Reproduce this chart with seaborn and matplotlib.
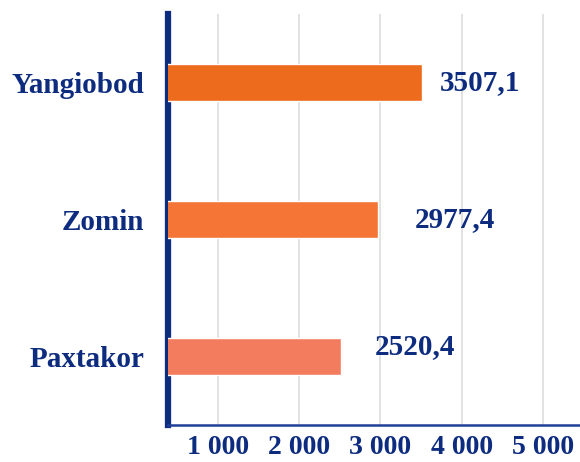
import pandas as pd
import seaborn as sns
import matplotlib.pyplot as plt

# Data
districts = ["Yangiobod", "Zomin", "Paxtakor"]
values = [3507.1, 2977.4, 2520.4]
bar_colors = ["#EC6B1C", "#F47535", "#F47C5E"]
xticks = [1000, 2000, 3000, 4000, 5000]
xtick_labels = ["1 000", "2 000", "3 000", "4 000", "5 000"]

df = pd.DataFrame({"district": districts, "value": values})

navy = "#0D2C7F"

sns.set_style("white")
plt.rcParams["font.family"] = ["Liberation Serif", "DejaVu Serif"]
plt.rcParams["font.weight"] = "bold"

fig = plt.figure(figsize=(5.8, 4.62), dpi=100)
ax = fig.add_axes([0.29, 0.08, 0.72, 0.89])

sns.barplot(
    data=df, x="value", y="district", hue="district",
    palette=bar_colors, saturation=1, orient="h", width=0.265,
    legend=False, ax=ax, zorder=3
)

ax.set_xlim(391, 5528)
ax.set_xticks(xticks)
ax.set_xticklabels(xtick_labels)
ax.grid(axis="x", color="#E2E2E2", linewidth=1.4, zorder=0)
ax.set_axisbelow(True)

ax.set_xlabel("")
ax.set_ylabel("")

for side in ["top", "right"]:
    ax.spines[side].set_visible(False)
ax.spines["left"].set_color(navy)
ax.spines["left"].set_linewidth(4.5)
ax.spines["bottom"].set_color("#1F3F98")
ax.spines["bottom"].set_linewidth(1.8)

ax.tick_params(axis="y", length=9, width=1.2, color=navy, pad=8,
               labelsize=21, labelcolor=navy)
ax.tick_params(axis="x", length=6, width=1.4, color=navy, pad=1,
               labelsize=20, labelcolor=navy)
for lbl in ax.get_xticklabels() + ax.get_yticklabels():
    lbl.set_fontweight("bold")

# value labels (offsets in points, as placed in the original)
offsets = [(13, 0), (26, 0), (24, 7)]
for i, (v, off) in enumerate(zip(values, offsets)):
    ax.annotate(f"{v:.1f}".replace(".", ","), xy=(v, i), xytext=off,
                textcoords="offset points", ha="left", va="center",
                fontsize=21, fontweight="bold", color=navy)

plt.savefig("out.png", dpi=100)
